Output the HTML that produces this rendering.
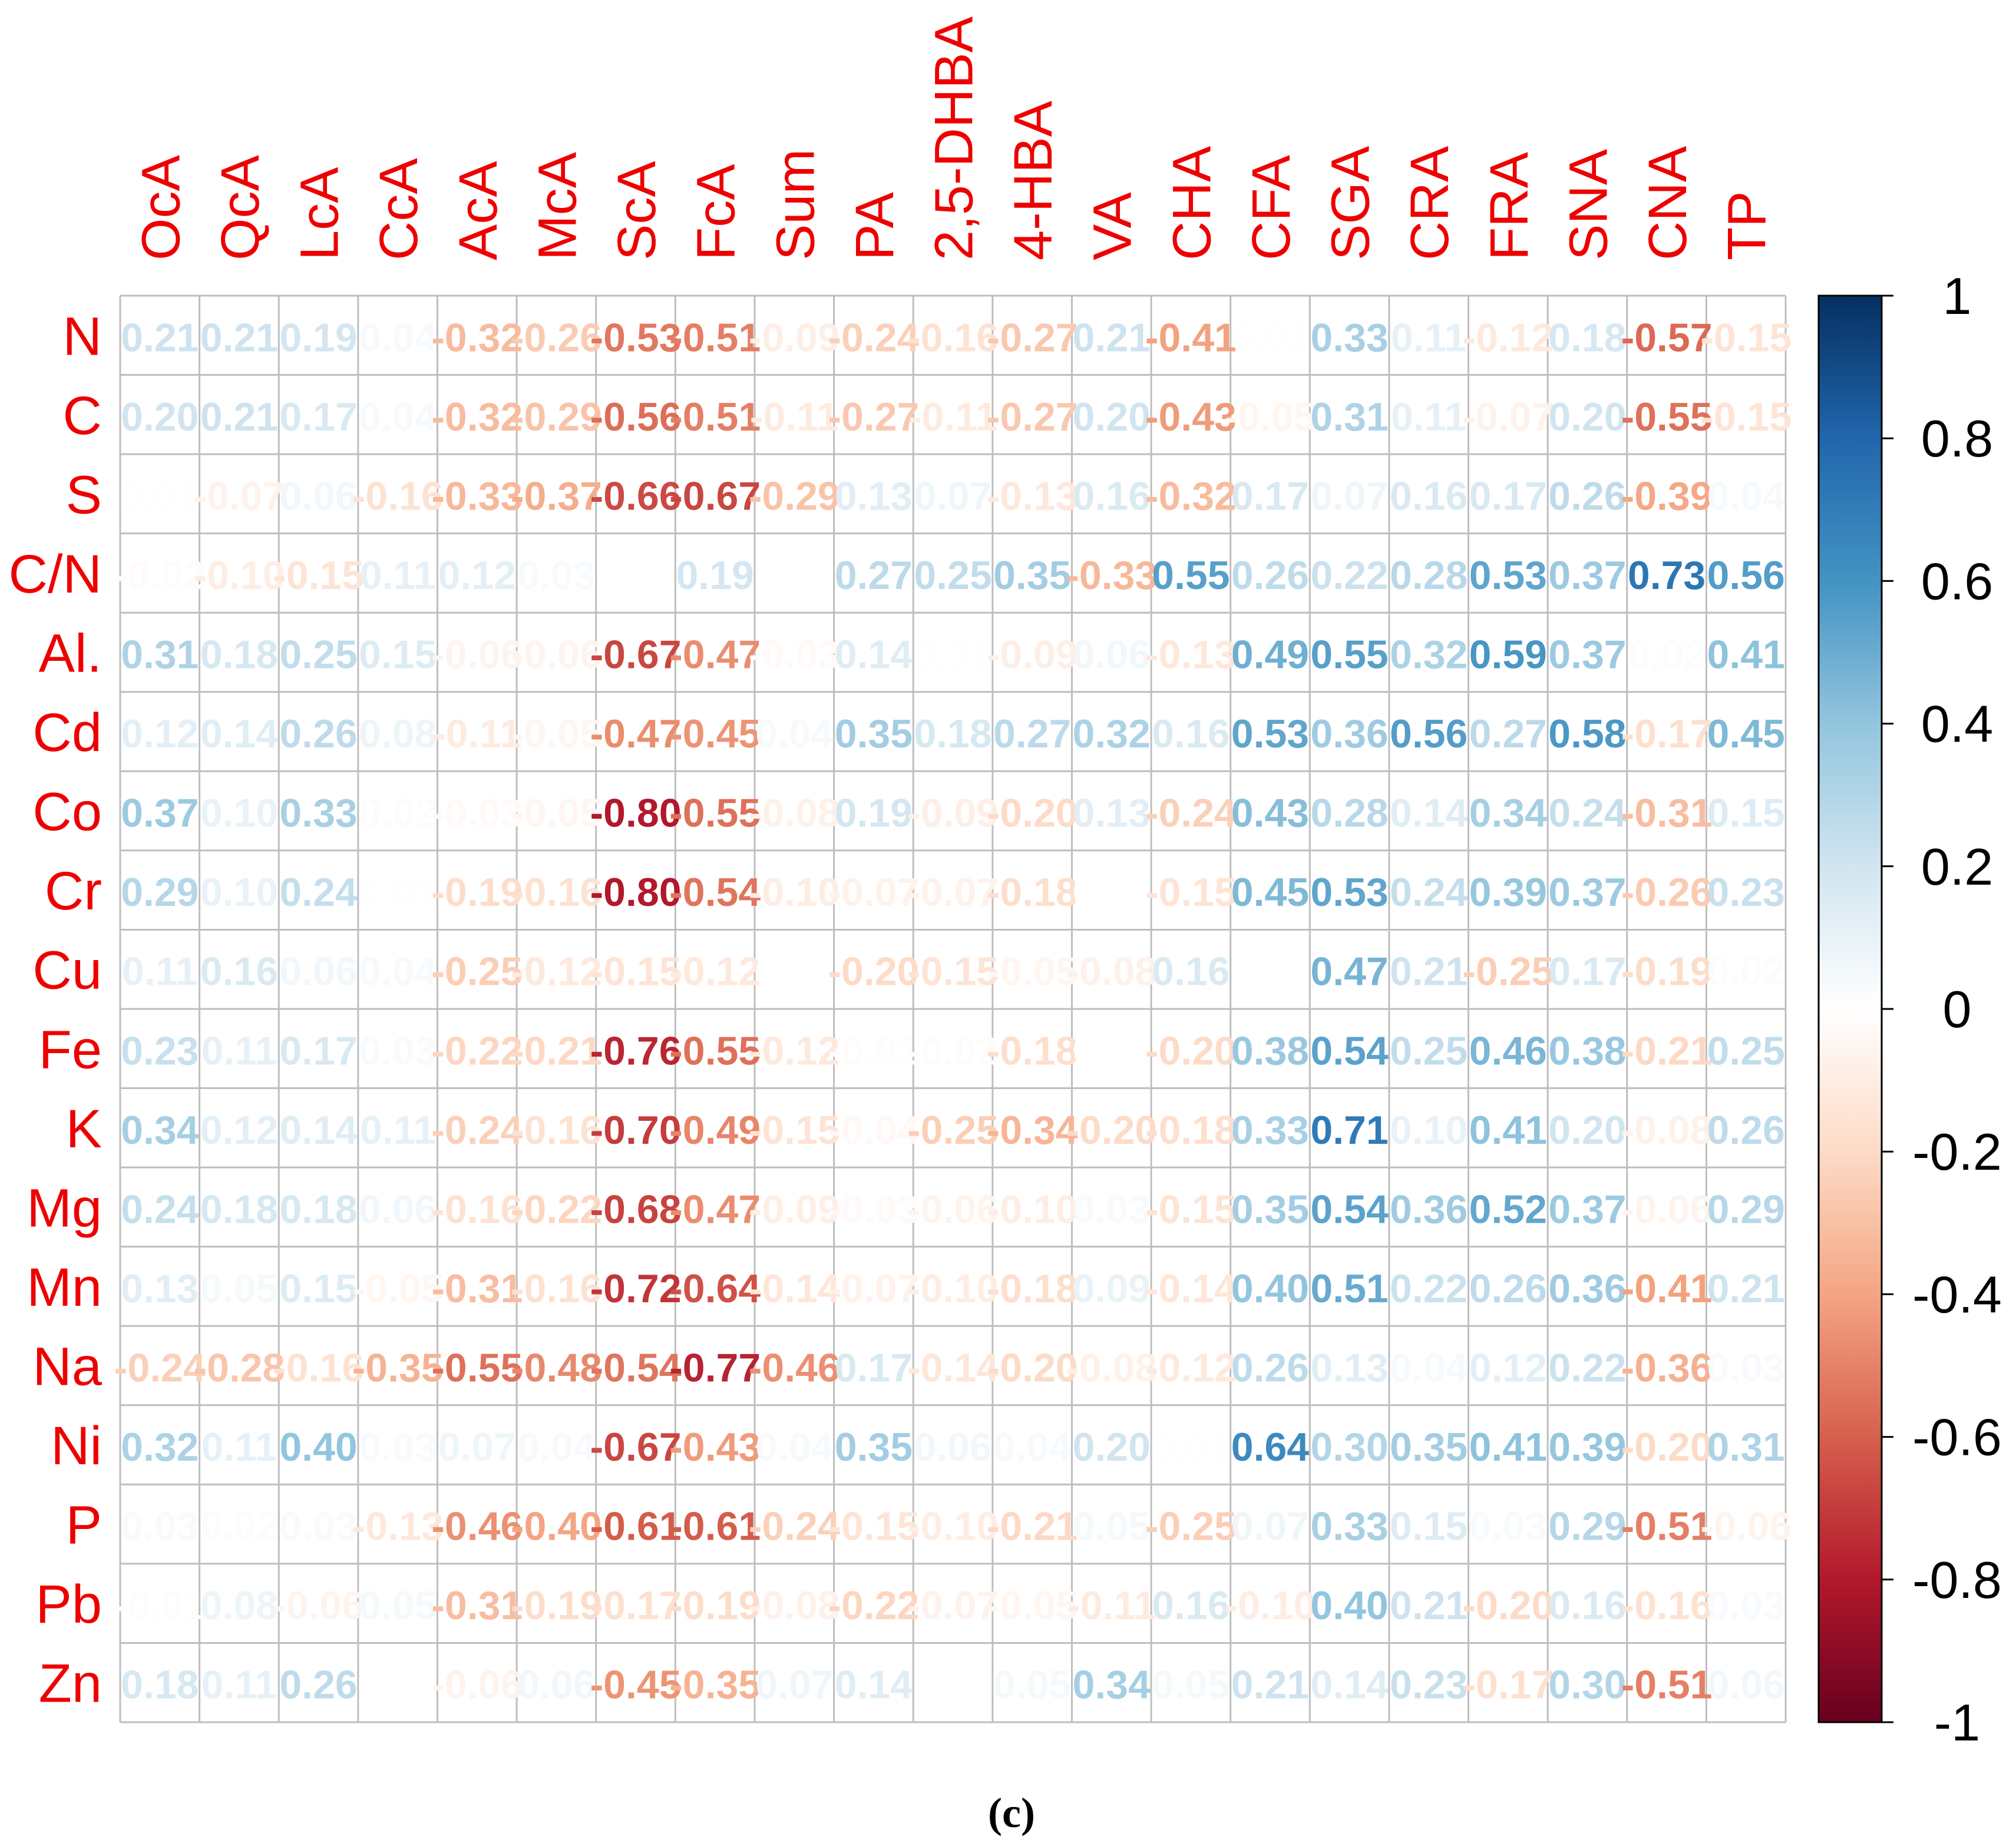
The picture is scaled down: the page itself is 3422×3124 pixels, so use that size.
<!DOCTYPE html>
<html><head><meta charset="utf-8"><style>
html,body{margin:0;padding:0;background:#fff;}
svg{display:block;}
</style></head><body>
<svg id="chart" width="3422" height="3124" viewBox="0 0 3422 3124" xmlns="http://www.w3.org/2000/svg">
<defs>
<linearGradient id="cbgrad" x1="0" y1="1" x2="0" y2="0">
<stop offset="0" stop-color="#67001F"/><stop offset="0.1" stop-color="#B2182B"/><stop offset="0.2" stop-color="#D6604D"/><stop offset="0.3" stop-color="#F4A582"/><stop offset="0.4" stop-color="#FDDBC7"/><stop offset="0.5" stop-color="#FFFFFF"/><stop offset="0.6" stop-color="#D1E5F0"/><stop offset="0.7" stop-color="#92C5DE"/><stop offset="0.8" stop-color="#4393C3"/><stop offset="0.9" stop-color="#2166AC"/><stop offset="1" stop-color="#053061"/>
</linearGradient>
</defs>
<g id="grid"></g>
<g id="vals"></g>
<g id="collabels"></g>
<g id="rowlabels"></g>
<g id="cbar"></g>
<text x="1717" y="3102" text-anchor="middle" font-family="'Liberation Serif', serif" font-weight="bold" font-size="72" fill="#000">(c)</text>
</svg>
<script>
const cols = ["OcA","QcA","LcA","CcA","AcA","McA","ScA","FcA","Sum","PA","2,5-DHBA","4-HBA","VA","CHA","CFA","SGA","CRA","FRA","SNA","CNA","TP"];
const rows = ["N","C","S","C/N","Al.","Cd","Co","Cr","Cu","Fe","K","Mg","Mn","Na","Ni","P","Pb","Zn"];
const rN  = [0.21,0.21,0.19,0.04,-0.32,-0.26,-0.53,-0.51,-0.09,-0.24,-0.16,-0.27,0.21,-0.41,0.01,0.33,0.11,-0.12,0.18,-0.57,-0.15];
const rC  = [0.20,0.21,0.17,0.04,-0.32,-0.29,-0.56,-0.51,-0.11,-0.27,-0.11,-0.27,0.20,-0.43,-0.05,0.31,0.11,-0.07,0.20,-0.55,-0.15];
const rS  = [0.01,-0.07,0.06,-0.16,-0.33,-0.37,-0.66,-0.67,-0.29,0.13,0.07,-0.13,0.16,-0.32,0.17,0.07,0.16,0.17,0.26,-0.39,0.04];
const rCN = [-0.02,-0.10,-0.15,0.11,0.12,0.03,0.00,0.19,0.00,0.27,0.25,0.35,-0.33,0.55,0.26,0.22,0.28,0.53,0.37,0.73,0.56];
const rAl = [0.31,0.18,0.25,0.15,-0.06,-0.06,-0.67,-0.47,-0.03,0.14,0.01,-0.09,0.06,-0.13,0.49,0.55,0.32,0.59,0.37,0.02,0.41];
const rCd = [0.12,0.14,0.26,0.08,-0.11,-0.05,-0.47,-0.45,0.04,0.35,0.18,0.27,0.32,0.16,0.53,0.36,0.56,0.27,0.58,-0.17,0.45];
const rCo = [0.37,0.10,0.33,0.02,-0.03,-0.05,-0.80,-0.55,-0.08,0.19,-0.09,-0.20,0.13,-0.24,0.43,0.28,0.14,0.34,0.24,-0.31,0.15];
const rCr = [0.29,0.10,0.24,0.01,-0.19,-0.16,-0.80,-0.54,-0.10,-0.07,-0.07,-0.18,0.00,-0.15,0.45,0.53,0.24,0.39,0.37,-0.26,0.23];
const rCu = [0.11,0.16,0.06,0.04,-0.25,-0.12,-0.15,-0.12,0.00,-0.20,-0.15,-0.05,-0.08,0.16,0.00,0.47,0.21,-0.25,0.17,-0.19,0.02];
const rFe = [0.23,0.11,0.17,0.03,-0.22,-0.21,-0.76,-0.55,-0.12,-0.01,-0.02,-0.18,0.00,-0.20,0.38,0.54,0.25,0.46,0.38,-0.21,0.25];
const rK  = [0.34,0.12,0.14,0.11,-0.24,-0.16,-0.70,-0.49,-0.15,-0.04,-0.25,-0.34,-0.20,-0.18,0.33,0.71,0.10,0.41,0.20,-0.08,0.26];
const rMg = [0.24,0.18,0.18,0.06,-0.16,-0.22,-0.68,-0.47,-0.09,-0.03,-0.06,-0.10,0.03,-0.15,0.35,0.54,0.36,0.52,0.37,-0.06,0.29];
const rMn = [0.13,0.05,0.15,-0.05,-0.31,-0.16,-0.72,-0.64,-0.14,-0.07,-0.10,-0.18,0.09,-0.14,0.40,0.51,0.22,0.26,0.36,-0.41,0.21];
const rNa = [-0.24,-0.28,-0.16,-0.35,-0.55,-0.48,-0.54,-0.77,-0.46,0.17,-0.14,-0.20,-0.08,-0.12,0.26,0.13,0.04,0.12,0.22,-0.36,0.03];
const rNi = [0.32,0.11,0.40,0.03,0.07,0.04,-0.67,-0.43,0.04,0.35,0.06,0.04,0.20,0.01,0.64,0.30,0.35,0.41,0.39,-0.20,0.31];
const rP  = [0.03,0.02,0.03,-0.13,-0.46,-0.40,-0.61,-0.61,-0.24,-0.15,-0.10,-0.21,0.05,-0.25,0.07,0.33,0.15,0.03,0.29,-0.51,-0.06];
const rPb = [-0.01,0.08,-0.06,0.05,-0.31,-0.19,-0.17,-0.19,-0.08,-0.22,-0.07,-0.05,-0.11,0.16,-0.10,0.40,0.21,-0.20,0.16,-0.16,0.03];
const rZn = [0.18,0.11,0.26,0.00,-0.06,0.06,-0.45,-0.35,0.07,0.14,0.00,0.05,0.34,0.05,0.21,0.14,0.23,-0.17,0.30,-0.51,0.06];
const values = [rN,rC,rS,rCN,rAl,rCd,rCo,rCr,rCu,rFe,rK,rMg,rMn,rNa,rNi,rP,rPb,rZn];
const cbTicks = [1,0.8,0.6,0.4,0.2,0,-0.2,-0.4,-0.6,-0.8,-1];

const NS = "http://www.w3.org/2000/svg";
const L = 204, R = 3031, T = 502, B = 2924;
const cw = (R - L) / cols.length, rh = (B - T) / rows.length;
const xc = i => L + cw * (i + 0.5);
const yc = j => T + rh * (j + 0.5);
const stops = ["#67001F","#B2182B","#D6604D","#F4A582","#FDDBC7","#FFFFFF","#D1E5F0","#92C5DE","#4393C3","#2166AC","#053061"];
function hex(h){return [1,3,5].map(k=>parseInt(h.substr(k,2),16));}
function color(v){
  let t = (Math.max(-1,Math.min(1,v)) + 1) / 2 * 10;
  let i = Math.min(9, Math.floor(t)), f = t - i;
  const a = hex(stops[i]), b = hex(stops[i+1]);
  return "rgb(" + a.map((c,k)=>Math.round(c + (b[k]-c)*f)).join(",") + ")";
}
function mk(tag, attrs, parent){
  const e = document.createElementNS(NS, tag);
  for (const k in attrs) e.setAttribute(k, attrs[k]);
  parent.appendChild(e); return e;
}
const grid = document.getElementById("grid");
for (let i = 0; i <= cols.length; i++) {
  const ln = mk("line", {x1:L+cw*i, x2:L+cw*i, y1:T, y2:B, stroke:"#BEBEBE", "stroke-width":3}, grid);
  
  
}
for (let j = 0; j <= rows.length; j++) {
  const ln = mk("line", {x1:L, x2:R, y1:T+rh*j, y2:T+rh*j, stroke:"#BEBEBE", "stroke-width":3}, grid);
  
  
}
const vals = document.getElementById("vals");
values.forEach((row, j) => row.forEach((v, i) => {
  const t = mk("text", {x:xc(i), y:yc(j)+27, "text-anchor":"middle", "font-family":"'Liberation Sans', sans-serif", "font-weight":"bold", "font-size":68, fill:color(v)}, vals);
  t.textContent = v.toFixed(2);
  
  
}));
const cl = document.getElementById("collabels");
cols.forEach((c, i) => {
  const x = xc(i) + 33, y = 442;
  const t = mk("text", {x:x, y:y, transform:"rotate(-90 "+x+" "+y+")", "font-family":"'Liberation Sans', sans-serif", "font-size":92, fill:"#EE0000"}, cl);
  t.textContent = c;
  
  
});
const rl = document.getElementById("rowlabels");
rows.forEach((r, j) => {
  const t = mk("text", {x:173, y:yc(j)+33, "text-anchor":"end", "font-family":"'Liberation Sans', sans-serif", "font-size":92, fill:"#EE0000"}, rl);
  t.textContent = r;
  
  
});
const cb = document.getElementById("cbar");
const cbX = 3087, cbW = 107;
const cy = v => B - (v + 1) / 2 * (B - T);
const bar = mk("rect", {x:cbX, y:T, width:cbW, height:B-T, fill:"url(#cbgrad)", stroke:"#000", "stroke-width":3}, cb);


cbTicks.forEach(v => {
  const tk = mk("line", {x1:cbX+cbW, x2:cbX+cbW+20, y1:cy(v), y2:cy(v), stroke:"#000", "stroke-width":3}, cb);
  
  
  const t = mk("text", {x:3322, y:cy(v)+31, "text-anchor":"middle", "font-family":"'Liberation Sans', sans-serif", "font-size":88, fill:"#000"}, cb);
  t.textContent = String(v);
  
  
});
</script>
</body></html>
